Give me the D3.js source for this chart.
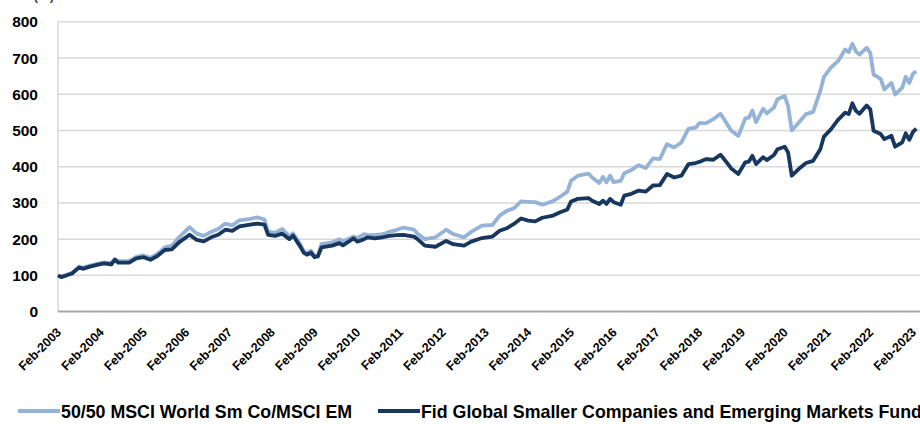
<!DOCTYPE html>
<html lang="en">
<head>
<meta charset="utf-8">
<script src="https://cdnjs.cloudflare.com/ajax/libs/d3/7.8.5/d3.min.js"></script>
<style>
    body { margin: 0; background: #ffffff; }
    svg { display: block; }
    text { font-family: "Liberation Sans", Arial, sans-serif; font-weight: bold; }
</style>
</head>
<body>
<div id="chart"></div>
<script>
// month-end points
var dates = ["2003-02","2003-03","2003-06","2003-08","2003-09","2003-11","2004-01","2004-03","2004-05","2004-06",
    "2004-07","2004-10","2004-12","2005-02","2005-04","2005-06","2005-08","2005-10","2005-12","2006-03",
    "2006-05","2006-07","2006-09","2006-11","2007-01","2007-03","2007-05","2007-08","2007-10","2007-12",
    "2008-01","2008-03","2008-05","2008-07","2008-08","2008-10","2008-11","2008-12","2009-01","2009-02",
    "2009-03","2009-04","2009-07","2009-09","2009-10","2010-01","2010-02","2010-04","2010-05","2010-07",
    "2010-09","2010-10","2010-11","2011-01","2011-03","2011-06","2011-07","2011-09","2011-12","2012-03",
    "2012-05","2012-08","2012-10","2013-01","2013-04","2013-06","2013-08","2013-10","2013-12","2014-02",
    "2014-04","2014-06","2014-09","2014-11","2015-01","2015-02","2015-04","2015-07","2015-08","2015-10",
    "2015-11","2015-12","2016-01","2016-02","2016-04","2016-05","2016-07","2016-09","2016-11","2017-01",
    "2017-03","2017-05","2017-07","2017-09","2017-11","2018-01","2018-02","2018-04","2018-06","2018-08",
    "2018-09","2018-11","2019-01","2019-03","2019-04","2019-05","2019-06","2019-08","2019-09","2019-11",
    "2019-12","2020-02","2020-03","2020-04","2020-06","2020-08","2020-10","2020-12","2021-01","2021-03",
    "2021-05","2021-07","2021-08","2021-09","2021-10","2021-11","2022-01","2022-02","2022-03","2022-05",
    "2022-06","2022-08","2022-09","2022-11","2022-12","2023-01","2023-02","2023-03"];

// 50/50 MSCI World Sm Co / MSCI EM
var indexValues = [100,96,107,124,121,127,132,136,134,145,
    139,140,151,155,148,160,177,182,205,233,
    215,209,220,228,243,238,252,256,260,254,
    221,217,228,208,216,186,167,162,168,154,
    155,186,191,200,194,207,203,214,212,211,
    214,216,220,225,232,226,215,200,205,226,
    214,205,220,237,239,265,278,285,304,303,
    302,295,305,317,331,361,375,381,370,355,
    372,357,375,357,361,382,391,404,396,423,
    421,462,453,467,505,508,520,520,531,546,
    531,499,485,533,535,555,523,560,547,563,
    586,595,567,500,522,545,551,609,648,673,
    691,723,716,739,718,709,728,714,654,642,
    613,631,599,618,648,631,657,663];

// Fid Global Smaller Companies and Emerging Markets Fund
var fundValues = [100,95,105,122,118,124,129,133,130,143,
    135,135,147,150,143,154,170,172,191,212,
    198,194,205,212,226,223,235,240,243,240,
    212,209,215,200,210,180,162,157,163,150,
    152,177,182,189,183,202,193,200,205,202,
    205,207,209,211,212,207,200,182,179,195,
    186,182,193,203,207,223,230,242,257,251,
    249,259,265,274,282,304,311,313,306,297,
    306,297,311,302,295,320,325,334,331,348,
    349,380,370,375,407,410,413,421,419,433,
    421,395,380,412,414,430,407,426,418,432,
    448,455,439,375,394,410,416,448,483,503,
    529,549,545,575,554,546,569,558,499,490,
    476,485,455,467,492,474,496,505];

var yTicks = [0,100,200,300,400,500,600,700,800];
var tickYears = d3.range(2003, 2024);

var seriesNames = ["50/50 MSCI World Sm Co/MSCI EM",
    "Fid Global Smaller Companies and Emerging Markets Fund"];
var colors = ["#95b3d7", "#17375e"];

var w = 920, h = 424;
var parse = d3.timeParse("%Y-%m");

var svg = d3.select("#chart").append("svg")
    .attr("width", w)
    .attr("height", h);

var x = d3.scaleTime()
    .domain([parse("2003-02"), parse("2023-02")])
    .range([58, 913]);

var y = d3.scaleLinear()
    .domain([0, 800])
    .range([311.6, 21.7]);

// title sits above the frame, only its foot shows
svg.append("text")
    .attr("x", 54).attr("y", 0)
    .attr("text-anchor", "end")
    .attr("font-size", 13)
    .attr("fill", "#404040")
    .text("(%)");

// gridlines
svg.append("g").selectAll("line")
    .data(yTicks.filter(function(d) { return d > 0; }))
    .enter().append("line")
    .attr("x1", 58).attr("x2", w)
    .attr("y1", function(d) { return y(d); })
    .attr("y2", function(d) { return y(d); })
    .attr("stroke", "#d9d9d9")
    .attr("stroke-width", 1.5);

// y axis line
svg.append("line")
    .attr("x1", 58).attr("x2", 58)
    .attr("y1", y(800)).attr("y2", y(0))
    .attr("stroke", "#d9d9d9")
    .attr("stroke-width", 1.5);

// y labels
svg.append("g").selectAll("text")
    .data(yTicks)
    .enter().append("text")
    .attr("x", 38)
    .attr("y", function(d) { return y(d); })
    .attr("dy", "0.36em")
    .attr("text-anchor", "end")
    .attr("font-size", 15.5)
    .attr("fill", "#000")
    .text(function(d) { return d; });

// lines
var line = d3.line()
    .x(function(d) { return x(d.date); })
    .y(function(d) { return y(d.v); });

[indexValues, fundValues].forEach(function(vals, i) {
    var pts = dates.map(function(s, j) { return { date: parse(s), v: vals[j] }; });
    svg.append("path")
        .datum(pts)
        .attr("fill", "none")
        .attr("stroke", colors[i])
        .attr("stroke-width", 3.8)
        .attr("stroke-linejoin", "round")
        .attr("d", line);
});

// x axis line
svg.append("line")
    .attr("x1", 58).attr("x2", w)
    .attr("y1", y(0)).attr("y2", y(0))
    .attr("stroke", "#a6a6a6")
    .attr("stroke-width", 2);

// x labels
svg.append("g").selectAll("text")
    .data(tickYears)
    .enter().append("text")
    .attr("transform", function(d) {
        var px = x(new Date(d, 1, 1));
        return "translate(" + (px + 4) + ",333) rotate(-45)";
    })
    .attr("text-anchor", "end")
    .attr("font-size", 12.5)
    .attr("fill", "#000")
    .text(function(d) { return "Feb-" + d; });

// legend
var legendX = [18, 378];
seriesNames.forEach(function(name, i) {
    var g = svg.append("g");
    g.append("line")
        .attr("x1", legendX[i]).attr("x2", legendX[i] + 42)
        .attr("y1", 411).attr("y2", 411)
        .attr("stroke", colors[i])
        .attr("stroke-width", 3.8);
    g.append("text")
        .attr("x", legendX[i] + 43)
        .attr("y", 417.5)
        .attr("font-size", 17.8)
        .attr("fill", "#000")
        .text(name);
});
</script>
</body>
</html>
